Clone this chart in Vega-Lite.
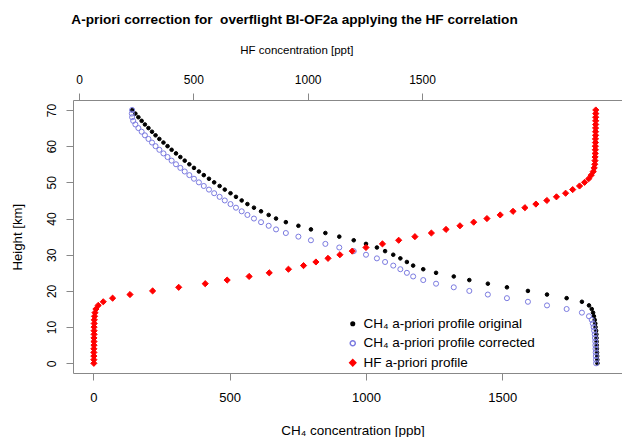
{
  "$schema": "https://vega.github.io/schema/vega-lite/v6.json",
  "width": 549,
  "height": 273,
  "autosize": {"type": "none"},
  "padding": {"left": 73, "top": 100, "right": 0, "bottom": 64},
  "background": "white",
  "title": {
    "text": "A-priori correction for\u00a0 overflight BI-OF2a applying the HF correlation",
    "font": "Liberation Sans",
    "fontSize": 13.6,
    "fontWeight": "bold",
    "color": "black",
    "anchor": "middle",
    "frame": "group",
    "dx": -53,
    "offset": 17
  },
  "config": {
    "view": {"stroke": null},
    "font": "Liberation Sans",
    "axis": {
      "grid": false,
      "domainColor": "#888888",
      "tickColor": "#888888",
      "domainWidth": 1,
      "tickWidth": 1,
      "tickSize": 7,
      "labelColor": "black",
      "titleColor": "black",
      "labelFont": "Liberation Sans",
      "titleFont": "Liberation Sans",
      "titleFontWeight": "normal",
      "labelFontSize": 13,
      "titleFontSize": 13,
      "labelOverlap": false,
      "labelFlush": false,
      "format": "d"
    }
  },
  "data": {
    "values": [
      {"series": "CH₄ a-priori profile original", "h": 0, "v": 1849},
      {"series": "CH₄ a-priori profile original", "h": 1, "v": 1848.5},
      {"series": "CH₄ a-priori profile original", "h": 2, "v": 1848},
      {"series": "CH₄ a-priori profile original", "h": 3, "v": 1847.5},
      {"series": "CH₄ a-priori profile original", "h": 4, "v": 1847},
      {"series": "CH₄ a-priori profile original", "h": 5, "v": 1846.5},
      {"series": "CH₄ a-priori profile original", "h": 6, "v": 1846},
      {"series": "CH₄ a-priori profile original", "h": 7, "v": 1845.5},
      {"series": "CH₄ a-priori profile original", "h": 8, "v": 1845},
      {"series": "CH₄ a-priori profile original", "h": 9, "v": 1844},
      {"series": "CH₄ a-priori profile original", "h": 10, "v": 1842},
      {"series": "CH₄ a-priori profile original", "h": 11, "v": 1841},
      {"series": "CH₄ a-priori profile original", "h": 12, "v": 1839},
      {"series": "CH₄ a-priori profile original", "h": 13, "v": 1836},
      {"series": "CH₄ a-priori profile original", "h": 14, "v": 1833},
      {"series": "CH₄ a-priori profile original", "h": 15, "v": 1828},
      {"series": "CH₄ a-priori profile original", "h": 16, "v": 1818},
      {"series": "CH₄ a-priori profile original", "h": 17, "v": 1792},
      {"series": "CH₄ a-priori profile original", "h": 18, "v": 1736},
      {"series": "CH₄ a-priori profile original", "h": 19, "v": 1664},
      {"series": "CH₄ a-priori profile original", "h": 20, "v": 1594},
      {"series": "CH₄ a-priori profile original", "h": 21, "v": 1517},
      {"series": "CH₄ a-priori profile original", "h": 22, "v": 1447},
      {"series": "CH₄ a-priori profile original", "h": 23, "v": 1379},
      {"series": "CH₄ a-priori profile original", "h": 24, "v": 1322},
      {"series": "CH₄ a-priori profile original", "h": 25, "v": 1257},
      {"series": "CH₄ a-priori profile original", "h": 26, "v": 1210},
      {"series": "CH₄ a-priori profile original", "h": 27, "v": 1173},
      {"series": "CH₄ a-priori profile original", "h": 28, "v": 1150},
      {"series": "CH₄ a-priori profile original", "h": 29, "v": 1126},
      {"series": "CH₄ a-priori profile original", "h": 30, "v": 1100},
      {"series": "CH₄ a-priori profile original", "h": 31, "v": 1070},
      {"series": "CH₄ a-priori profile original", "h": 32, "v": 1040},
      {"series": "CH₄ a-priori profile original", "h": 33, "v": 1000},
      {"series": "CH₄ a-priori profile original", "h": 34, "v": 955},
      {"series": "CH₄ a-priori profile original", "h": 35, "v": 902},
      {"series": "CH₄ a-priori profile original", "h": 36, "v": 851},
      {"series": "CH₄ a-priori profile original", "h": 37, "v": 798},
      {"series": "CH₄ a-priori profile original", "h": 38, "v": 752},
      {"series": "CH₄ a-priori profile original", "h": 39, "v": 706},
      {"series": "CH₄ a-priori profile original", "h": 40, "v": 670},
      {"series": "CH₄ a-priori profile original", "h": 41, "v": 643},
      {"series": "CH₄ a-priori profile original", "h": 42, "v": 615},
      {"series": "CH₄ a-priori profile original", "h": 43, "v": 589},
      {"series": "CH₄ a-priori profile original", "h": 44, "v": 565},
      {"series": "CH₄ a-priori profile original", "h": 45, "v": 544},
      {"series": "CH₄ a-priori profile original", "h": 46, "v": 523},
      {"series": "CH₄ a-priori profile original", "h": 47, "v": 503},
      {"series": "CH₄ a-priori profile original", "h": 48, "v": 482},
      {"series": "CH₄ a-priori profile original", "h": 49, "v": 463},
      {"series": "CH₄ a-priori profile original", "h": 50, "v": 443},
      {"series": "CH₄ a-priori profile original", "h": 51, "v": 424},
      {"series": "CH₄ a-priori profile original", "h": 52, "v": 405},
      {"series": "CH₄ a-priori profile original", "h": 53, "v": 387},
      {"series": "CH₄ a-priori profile original", "h": 54, "v": 369},
      {"series": "CH₄ a-priori profile original", "h": 55, "v": 352},
      {"series": "CH₄ a-priori profile original", "h": 56, "v": 335},
      {"series": "CH₄ a-priori profile original", "h": 57, "v": 319},
      {"series": "CH₄ a-priori profile original", "h": 58, "v": 303},
      {"series": "CH₄ a-priori profile original", "h": 59, "v": 287},
      {"series": "CH₄ a-priori profile original", "h": 60, "v": 272},
      {"series": "CH₄ a-priori profile original", "h": 61, "v": 257},
      {"series": "CH₄ a-priori profile original", "h": 62, "v": 242},
      {"series": "CH₄ a-priori profile original", "h": 63, "v": 228},
      {"series": "CH₄ a-priori profile original", "h": 64, "v": 215},
      {"series": "CH₄ a-priori profile original", "h": 65, "v": 202},
      {"series": "CH₄ a-priori profile original", "h": 66, "v": 189},
      {"series": "CH₄ a-priori profile original", "h": 67, "v": 177},
      {"series": "CH₄ a-priori profile original", "h": 68, "v": 165},
      {"series": "CH₄ a-priori profile original", "h": 69, "v": 154},
      {"series": "CH₄ a-priori profile original", "h": 70, "v": 143},
      {"series": "CH₄ a-priori profile corrected", "h": 0, "v": 1844},
      {"series": "CH₄ a-priori profile corrected", "h": 1, "v": 1843.5},
      {"series": "CH₄ a-priori profile corrected", "h": 2, "v": 1843},
      {"series": "CH₄ a-priori profile corrected", "h": 3, "v": 1842.5},
      {"series": "CH₄ a-priori profile corrected", "h": 4, "v": 1842},
      {"series": "CH₄ a-priori profile corrected", "h": 5, "v": 1841.5},
      {"series": "CH₄ a-priori profile corrected", "h": 6, "v": 1841},
      {"series": "CH₄ a-priori profile corrected", "h": 7, "v": 1840},
      {"series": "CH₄ a-priori profile corrected", "h": 8, "v": 1839},
      {"series": "CH₄ a-priori profile corrected", "h": 9, "v": 1837},
      {"series": "CH₄ a-priori profile corrected", "h": 10, "v": 1835},
      {"series": "CH₄ a-priori profile corrected", "h": 11, "v": 1832},
      {"series": "CH₄ a-priori profile corrected", "h": 12, "v": 1828},
      {"series": "CH₄ a-priori profile corrected", "h": 13, "v": 1818},
      {"series": "CH₄ a-priori profile corrected", "h": 14, "v": 1792},
      {"series": "CH₄ a-priori profile corrected", "h": 15, "v": 1736},
      {"series": "CH₄ a-priori profile corrected", "h": 16, "v": 1664},
      {"series": "CH₄ a-priori profile corrected", "h": 17, "v": 1594},
      {"series": "CH₄ a-priori profile corrected", "h": 18, "v": 1517},
      {"series": "CH₄ a-priori profile corrected", "h": 19, "v": 1447},
      {"series": "CH₄ a-priori profile corrected", "h": 20, "v": 1379},
      {"series": "CH₄ a-priori profile corrected", "h": 21, "v": 1322},
      {"series": "CH₄ a-priori profile corrected", "h": 22, "v": 1257},
      {"series": "CH₄ a-priori profile corrected", "h": 23, "v": 1210},
      {"series": "CH₄ a-priori profile corrected", "h": 24, "v": 1173},
      {"series": "CH₄ a-priori profile corrected", "h": 25, "v": 1150},
      {"series": "CH₄ a-priori profile corrected", "h": 26, "v": 1126},
      {"series": "CH₄ a-priori profile corrected", "h": 27, "v": 1100},
      {"series": "CH₄ a-priori profile corrected", "h": 28, "v": 1070},
      {"series": "CH₄ a-priori profile corrected", "h": 29, "v": 1040},
      {"series": "CH₄ a-priori profile corrected", "h": 30, "v": 1000},
      {"series": "CH₄ a-priori profile corrected", "h": 31, "v": 955},
      {"series": "CH₄ a-priori profile corrected", "h": 32, "v": 902},
      {"series": "CH₄ a-priori profile corrected", "h": 33, "v": 851},
      {"series": "CH₄ a-priori profile corrected", "h": 34, "v": 798},
      {"series": "CH₄ a-priori profile corrected", "h": 35, "v": 752},
      {"series": "CH₄ a-priori profile corrected", "h": 36, "v": 706},
      {"series": "CH₄ a-priori profile corrected", "h": 37, "v": 670},
      {"series": "CH₄ a-priori profile corrected", "h": 38, "v": 643},
      {"series": "CH₄ a-priori profile corrected", "h": 39, "v": 615},
      {"series": "CH₄ a-priori profile corrected", "h": 40, "v": 589},
      {"series": "CH₄ a-priori profile corrected", "h": 41, "v": 565},
      {"series": "CH₄ a-priori profile corrected", "h": 42, "v": 544},
      {"series": "CH₄ a-priori profile corrected", "h": 43, "v": 523},
      {"series": "CH₄ a-priori profile corrected", "h": 44, "v": 503},
      {"series": "CH₄ a-priori profile corrected", "h": 45, "v": 482},
      {"series": "CH₄ a-priori profile corrected", "h": 46, "v": 463},
      {"series": "CH₄ a-priori profile corrected", "h": 47, "v": 443},
      {"series": "CH₄ a-priori profile corrected", "h": 48, "v": 424},
      {"series": "CH₄ a-priori profile corrected", "h": 49, "v": 405},
      {"series": "CH₄ a-priori profile corrected", "h": 50, "v": 387},
      {"series": "CH₄ a-priori profile corrected", "h": 51, "v": 369},
      {"series": "CH₄ a-priori profile corrected", "h": 52, "v": 352},
      {"series": "CH₄ a-priori profile corrected", "h": 53, "v": 335},
      {"series": "CH₄ a-priori profile corrected", "h": 54, "v": 319},
      {"series": "CH₄ a-priori profile corrected", "h": 55, "v": 303},
      {"series": "CH₄ a-priori profile corrected", "h": 56, "v": 287},
      {"series": "CH₄ a-priori profile corrected", "h": 57, "v": 272},
      {"series": "CH₄ a-priori profile corrected", "h": 58, "v": 257},
      {"series": "CH₄ a-priori profile corrected", "h": 59, "v": 242},
      {"series": "CH₄ a-priori profile corrected", "h": 60, "v": 228},
      {"series": "CH₄ a-priori profile corrected", "h": 61, "v": 215},
      {"series": "CH₄ a-priori profile corrected", "h": 62, "v": 202},
      {"series": "CH₄ a-priori profile corrected", "h": 63, "v": 189},
      {"series": "CH₄ a-priori profile corrected", "h": 64, "v": 177},
      {"series": "CH₄ a-priori profile corrected", "h": 65, "v": 165},
      {"series": "CH₄ a-priori profile corrected", "h": 66, "v": 154},
      {"series": "CH₄ a-priori profile corrected", "h": 67, "v": 146},
      {"series": "CH₄ a-priori profile corrected", "h": 68, "v": 142},
      {"series": "CH₄ a-priori profile corrected", "h": 69, "v": 141},
      {"series": "CH₄ a-priori profile corrected", "h": 70, "v": 142},
      {"series": "HF a-priori profile", "h": 0, "v": 65},
      {"series": "HF a-priori profile", "h": 1, "v": 65},
      {"series": "HF a-priori profile", "h": 2, "v": 65},
      {"series": "HF a-priori profile", "h": 3, "v": 65},
      {"series": "HF a-priori profile", "h": 4, "v": 65},
      {"series": "HF a-priori profile", "h": 5, "v": 65.5},
      {"series": "HF a-priori profile", "h": 6, "v": 65.5},
      {"series": "HF a-priori profile", "h": 7, "v": 65.5},
      {"series": "HF a-priori profile", "h": 8, "v": 66},
      {"series": "HF a-priori profile", "h": 9, "v": 66},
      {"series": "HF a-priori profile", "h": 10, "v": 66},
      {"series": "HF a-priori profile", "h": 11, "v": 66.5},
      {"series": "HF a-priori profile", "h": 12, "v": 67},
      {"series": "HF a-priori profile", "h": 13, "v": 68},
      {"series": "HF a-priori profile", "h": 14, "v": 70},
      {"series": "HF a-priori profile", "h": 15, "v": 74},
      {"series": "HF a-priori profile", "h": 16, "v": 84},
      {"series": "HF a-priori profile", "h": 17, "v": 106},
      {"series": "HF a-priori profile", "h": 18, "v": 147},
      {"series": "HF a-priori profile", "h": 19, "v": 223},
      {"series": "HF a-priori profile", "h": 20, "v": 322},
      {"series": "HF a-priori profile", "h": 21, "v": 436},
      {"series": "HF a-priori profile", "h": 22, "v": 552},
      {"series": "HF a-priori profile", "h": 23, "v": 648},
      {"series": "HF a-priori profile", "h": 24, "v": 744},
      {"series": "HF a-priori profile", "h": 25, "v": 832},
      {"series": "HF a-priori profile", "h": 26, "v": 916},
      {"series": "HF a-priori profile", "h": 27, "v": 982},
      {"series": "HF a-priori profile", "h": 28, "v": 1036},
      {"series": "HF a-priori profile", "h": 29, "v": 1089},
      {"series": "HF a-priori profile", "h": 30, "v": 1141},
      {"series": "HF a-priori profile", "h": 31, "v": 1195},
      {"series": "HF a-priori profile", "h": 32, "v": 1255},
      {"series": "HF a-priori profile", "h": 33, "v": 1327},
      {"series": "HF a-priori profile", "h": 34, "v": 1398},
      {"series": "HF a-priori profile", "h": 35, "v": 1469},
      {"series": "HF a-priori profile", "h": 36, "v": 1541},
      {"series": "HF a-priori profile", "h": 37, "v": 1605},
      {"series": "HF a-priori profile", "h": 38, "v": 1666},
      {"series": "HF a-priori profile", "h": 39, "v": 1726},
      {"series": "HF a-priori profile", "h": 40, "v": 1784},
      {"series": "HF a-priori profile", "h": 41, "v": 1842},
      {"series": "HF a-priori profile", "h": 42, "v": 1898},
      {"series": "HF a-priori profile", "h": 43, "v": 1950},
      {"series": "HF a-priori profile", "h": 44, "v": 1998},
      {"series": "HF a-priori profile", "h": 45, "v": 2046},
      {"series": "HF a-priori profile", "h": 46, "v": 2088},
      {"series": "HF a-priori profile", "h": 47, "v": 2128},
      {"series": "HF a-priori profile", "h": 48, "v": 2159},
      {"series": "HF a-priori profile", "h": 49, "v": 2189},
      {"series": "HF a-priori profile", "h": 50, "v": 2211},
      {"series": "HF a-priori profile", "h": 51, "v": 2229},
      {"series": "HF a-priori profile", "h": 52, "v": 2240},
      {"series": "HF a-priori profile", "h": 53, "v": 2249},
      {"series": "HF a-priori profile", "h": 54, "v": 2253},
      {"series": "HF a-priori profile", "h": 55, "v": 2255.5},
      {"series": "HF a-priori profile", "h": 56, "v": 2256.5},
      {"series": "HF a-priori profile", "h": 57, "v": 2257},
      {"series": "HF a-priori profile", "h": 58, "v": 2257.5},
      {"series": "HF a-priori profile", "h": 59, "v": 2258},
      {"series": "HF a-priori profile", "h": 60, "v": 2258},
      {"series": "HF a-priori profile", "h": 61, "v": 2258.5},
      {"series": "HF a-priori profile", "h": 62, "v": 2258.5},
      {"series": "HF a-priori profile", "h": 63, "v": 2259},
      {"series": "HF a-priori profile", "h": 64, "v": 2259},
      {"series": "HF a-priori profile", "h": 65, "v": 2259},
      {"series": "HF a-priori profile", "h": 66, "v": 2259.5},
      {"series": "HF a-priori profile", "h": 67, "v": 2259.5},
      {"series": "HF a-priori profile", "h": 68, "v": 2259.5},
      {"series": "HF a-priori profile", "h": 69, "v": 2260},
      {"series": "HF a-priori profile", "h": 70, "v": 2260}
    ]
  },
  "encoding": {
    "fill": {
      "field": "series", "type": "nominal",
      "scale": {"domain": ["CH₄ a-priori profile original", "CH₄ a-priori profile corrected", "HF a-priori profile"], "range": ["black", "transparent", "red"]},
      "legend": {"title": null, "orient": "none", "legendX": 273, "legendY": 217, "padding": 0, "rowPadding": 4.5, "labelFontSize": 13.5, "labelOffset": 4, "labelLimit": 0, "labelFont": "Liberation Sans", "labelColor": "black"}
    },
    "stroke": {
      "field": "series", "type": "nominal",
      "scale": {"domain": ["CH₄ a-priori profile original", "CH₄ a-priori profile corrected", "HF a-priori profile"], "range": ["black", "#7b7be0", "red"]},
      "legend": {"title": null, "orient": "none", "legendX": 273, "legendY": 217, "padding": 0, "rowPadding": 4.5, "labelFontSize": 13.5, "labelOffset": 4, "labelLimit": 0, "labelFont": "Liberation Sans", "labelColor": "black"}
    },
    "shape": {
      "field": "series", "type": "nominal",
      "scale": {"domain": ["CH₄ a-priori profile original", "CH₄ a-priori profile corrected", "HF a-priori profile"], "range": ["circle", "circle", "diamond"]},
      "legend": {"title": null, "orient": "none", "legendX": 273, "legendY": 217, "padding": 0, "rowPadding": 4.5, "labelFontSize": 13.5, "labelOffset": 4, "labelLimit": 0, "labelFont": "Liberation Sans", "labelColor": "black"}
    },
    "size": {
      "field": "series", "type": "nominal",
      "scale": {"domain": ["CH₄ a-priori profile original", "CH₄ a-priori profile corrected", "HF a-priori profile"], "range": [13, 38, 24]},
      "legend": {"title": null, "orient": "none", "legendX": 273, "legendY": 217, "padding": 0, "rowPadding": 4.5, "labelFontSize": 13.5, "labelOffset": 4, "labelLimit": 0, "labelFont": "Liberation Sans", "labelColor": "black"}
    }
  },
  "layer": [
    {
      "transform": [{"filter": "datum.series !== 'HF a-priori profile'"}],
      "mark": {"type": "point", "filled": true, "strokeWidth": 1, "opacity": 1},
      "encoding": {
        "x": {
          "field": "v", "type": "quantitative",
          "scale": {"domain": [-74.8, 1939.1], "nice": false, "zero": false},
          "axis": {
            "orient": "bottom", "values": [0, 500, 1000, 1500], "format": "d",
            "title": "CH₄ concentration [ppb]",
            "labelPadding": 11, "labelFontSize": 13,
            "titleX": 279.5, "titleY": 57, "titleBaseline": "middle", "titleAnchor": null, "titleAlign": "center", "titleFontSize": 13.5
          }
        },
        "y": {
          "field": "h", "type": "quantitative",
          "scale": {"domain": [-2.68, 72.76], "nice": false, "zero": false},
          "axis": {
            "orient": "left",
            "values": [0, 10, 20, 30, 40, 50, 60, 70], "format": "d",
            "title": "Height [km]",
            "labelAngle": 270, "labelAlign": "center", "labelBaseline": "bottom", "labelPadding": 8, "labelFontSize": 12, "labelOverlap": false,
            "titleX": -56, "titleY": 136.7, "titleAngle": 270, "titleAlign": "center", "titleBaseline": "middle", "titleFontSize": 13.2
          }
        }
      }
    },
    {
      "transform": [{"filter": "datum.series === 'HF a-priori profile'"}],
      "mark": {"type": "point", "filled": true, "strokeWidth": 1, "opacity": 1},
      "encoding": {
        "x": {
          "field": "v", "type": "quantitative",
          "scale": {"domain": [-26.2, 2374.6], "nice": false, "zero": false},
          "axis": {
            "orient": "top", "values": [0, 500, 1000, 1500], "format": "d",
            "title": "HF concentration [ppt]",
            "labelPadding": 7, "labelFontSize": 12,
            "titleX": 223.3, "titleY": -50, "titleBaseline": "middle", "titleAnchor": null, "titleAlign": "center", "titleFontSize": 11.5
          }
        },
        "y": {
          "field": "h", "type": "quantitative",
          "scale": {"domain": [-2.68, 72.76], "nice": false, "zero": false},
          "axis": {"orient": "right", "labels": false, "ticks": false, "domain": false, "title": null, "grid": false}
        }
      }
    }
  ],
  "resolve": {"scale": {"x": "independent"}, "axis": {"x": "independent", "y": "independent"}}
}
